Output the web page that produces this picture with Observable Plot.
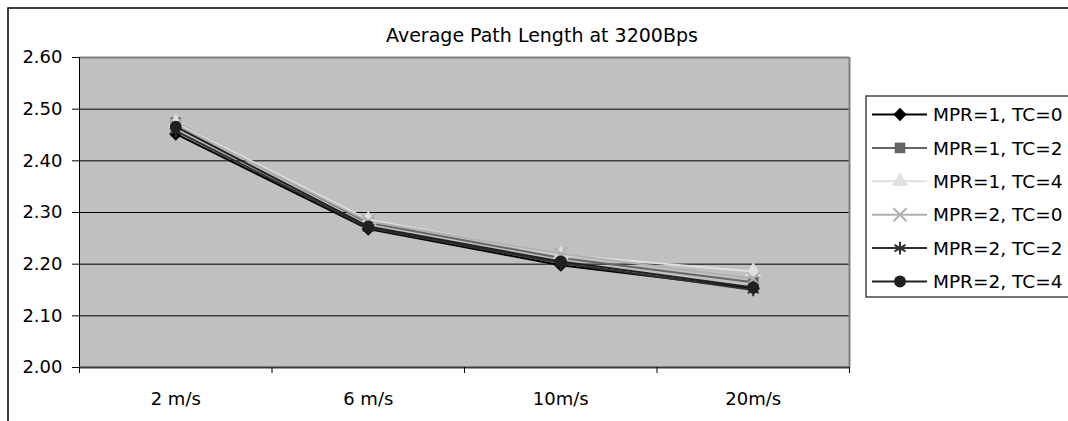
<!DOCTYPE html>
<html>
<head>
<meta charset="utf-8">
<script src="https://cdn.jsdelivr.net/npm/d3@7"></script>
<script src="https://cdn.jsdelivr.net/npm/@observablehq/plot@0.6"></script>
<style>
  body { margin: 0; background: #fff; }
  #chart { width: 1068px; height: 421px; overflow: hidden; }
</style>
</head>
<body>
<div id="chart"></div>
<script>
// Chart text and categories
const title = "Average Path Length at 3200Bps";
const speeds = ["2 m/s", "6 m/s", "10m/s", "20m/s"];
const seriesNames = ["MPR=1, TC=0", "MPR=1, TC=2", "MPR=1, TC=4", "MPR=2, TC=0", "MPR=2, TC=2", "MPR=2, TC=4"];

// Average path length per series, one value per speed
const mpr1tc0 = [2.452, 2.268, 2.198, 2.153];
const mpr1tc2 = [2.474, 2.280, 2.212, 2.165];
const mpr1tc4 = [2.473, 2.286, 2.218, 2.186];
const mpr2tc0 = [2.470, 2.283, 2.220, 2.172];
const mpr2tc2 = [2.458, 2.270, 2.202, 2.150];
const mpr2tc4 = [2.466, 2.273, 2.205, 2.155];
const seriesValues = [mpr1tc0, mpr1tc2, mpr1tc4, mpr2tc0, mpr2tc2, mpr2tc4];

// Axis ticks
const yTicks = [2.0, 2.1, 2.2, 2.3, 2.4, 2.5, 2.6];

// Per-series look: line colour, marker symbol, filled or stroked marker
const seriesStyles = [
  {color: "#000000", symbol: "diamond2", filled: true},
  {color: "#666666", symbol: "square", filled: true},
  {color: "#e0e0e0", symbol: "triangle", filled: true},
  {color: "#b0b0b0", symbol: "times", filled: false},
  {color: "#303030", symbol: "asterisk", filled: false},
  {color: "#202020", symbol: "circle", filled: true}
];

// Long-form table: one row per (series, speed)
const rows = seriesNames.flatMap((name, k) =>
  speeds.map((speed, i) => ({series: name, k, i, speed, value: seriesValues[k][i]}))
);

const font = "DejaVu Sans, Verdana, sans-serif";
const R = 6;

const seriesMarks = seriesNames.flatMap((name, k) => {
  const st = seriesStyles[k];
  const data = rows.filter(d => d.k === k);
  return [
    Plot.line(data, {x: "i", y: "value", stroke: st.color, strokeWidth: 2}),
    Plot.dot(data, st.filled
      ? {x: "i", y: "value", symbol: () => st.symbol, r: R, fill: st.color, stroke: "none"}
      : {x: "i", y: "value", symbol: () => st.symbol, r: R, fill: "none", stroke: st.color, strokeWidth: 2})
  ];
});

const bandEdges = d3.range(speeds.length + 1).map(j => j - 0.5);
const catIndex = speeds.map((_, i) => i);

const svg = Plot.plot({
  width: 1068,
  height: 421,
  marginLeft: 79,
  marginRight: 219,
  marginTop: 57,
  marginBottom: 54,
  style: {fontFamily: font, fontSize: "18px", color: "#000", background: "#fff", overflow: "hidden"},
  x: {type: "linear", domain: [-0.5, speeds.length - 0.5], label: null},
  y: {domain: [2.0, 2.6], label: null},
  symbol: {type: "identity"},
  marks: [
    Plot.frame({fill: "#c0c0c0", stroke: "none"}),
    Plot.ruleY(yTicks.filter(t => t > 2.0 && t < 2.6), {stroke: "#000", strokeWidth: 1}),
    Plot.ruleY([2.6], {stroke: "#808080", strokeWidth: 2}),
    Plot.ruleX([speeds.length - 0.5], {stroke: "#808080", strokeWidth: 2}),
    ...seriesMarks,
    Plot.ruleX([-0.5], {stroke: "#000", strokeWidth: 1}),
    Plot.ruleY([2.0], {stroke: "#3a3a3a", strokeWidth: 2}),
    Plot.axisY(yTicks, {tickSize: 7, tickPadding: 10, tickFormat: d3.format(".2f"), fontSize: 18, stroke: "#000", label: null}),
    Plot.axisX(bandEdges, {tickSize: 6, tickFormat: () => "", stroke: "#000", label: null}),
    Plot.axisX(catIndex, {tickSize: 0, tickPadding: 25, tickFormat: i => speeds[i], fontSize: 18, label: null})
  ]
});

const root = d3.select(svg);

// Chart border
root.append("rect")
  .attr("x", 8).attr("y", 8).attr("width", 1200).attr("height", 600)
  .attr("fill", "none").attr("stroke", "#000").attr("stroke-width", 1.5);

// Title
root.append("text")
  .attr("x", 542).attr("y", 42)
  .attr("text-anchor", "middle")
  .style("font-family", font).style("font-size", "19px").attr("fill", "#000")
  .text(title);

// Legend
const lg = root.append("g").attr("transform", "translate(866,96)");
lg.append("rect")
  .attr("width", 260).attr("height", 201)
  .attr("fill", "#fff").attr("stroke", "#444").attr("stroke-width", 1.5);
const symbolMap = {
  diamond2: d3.symbolDiamond2, square: d3.symbolSquare, triangle: d3.symbolTriangle,
  times: d3.symbolTimes, asterisk: d3.symbolAsterisk, circle: d3.symbolCircle
};
seriesNames.forEach((name, k) => {
  const st = seriesStyles[k];
  const row = lg.append("g").attr("transform", `translate(0,${18.5 + k * 33.4})`);
  row.append("line").attr("x1", 6).attr("x2", 61).attr("y1", 0).attr("y2", 0)
    .attr("stroke", st.color).attr("stroke-width", 2);
  row.append("path")
    .attr("transform", "translate(34,0)")
    .attr("d", d3.symbol(symbolMap[st.symbol], Math.PI * R * R)())
    .attr("fill", st.filled ? st.color : "none")
    .attr("stroke", st.filled ? "none" : st.color)
    .attr("stroke-width", st.filled ? 0 : 2);
  row.append("text").attr("x", 67).attr("y", 0).attr("dy", "0.36em")
    .attr("text-anchor", "start")
    .style("font-family", font).style("font-size", "18.5px").attr("fill", "#000")
    .text(name);
});

document.getElementById("chart").appendChild(svg);
</script>
</body>
</html>
